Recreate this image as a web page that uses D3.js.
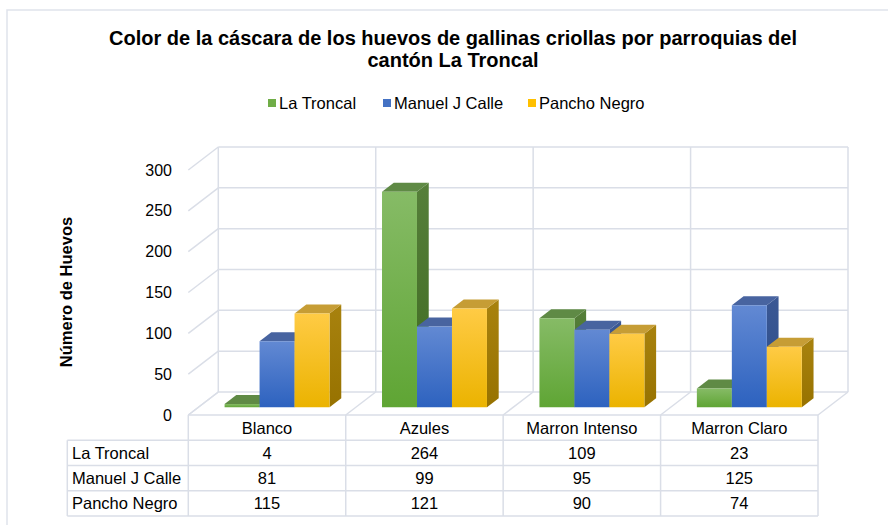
<!DOCTYPE html>
<html>
<head>
<meta charset="utf-8">
<script src="https://cdn.jsdelivr.net/npm/d3@7"></script>
<style>
body { margin: 0; background: #fff; }
text { font-family: "Liberation Sans", Arial, sans-serif; fill: #000; }
</style>
</head>
<body>
<div id="chart"></div>
<script>
// data
const categories = ['Blanco', 'Azules', 'Marron Intenso', 'Marron Claro'];
const series = ['La Troncal', 'Manuel J Calle', 'Pancho Negro'];
const laTroncal = [4, 264, 109, 23];
const manuelJCalle = [81, 99, 95, 125];
const panchoNegro = [115, 121, 90, 74];
const yTicks = [0, 50, 100, 150, 200, 250, 300];

const values = [laTroncal, manuelJCalle, panchoNegro];

// face colours per series: front top, front bottom, side top, side bottom, top
const shades = {
  'La Troncal':     ['#86bb66', '#5fa534', '#567f3a', '#3e6a20', '#5f8a45'],
  'Manuel J Calle': ['#6289d3', '#2d62bf', '#3b5894', '#2a4c8a', '#4864a0'],
  'Pancho Negro':   ['#ffcb45', '#ebb300', '#a8820e', '#977200', '#c69d35']
};
const legendColor = {'La Troncal': '#70ad47', 'Manuel J Calle': '#4472c4', 'Pancho Negro': '#ffc000'};

const width = 888, height = 525;
const DX = 30, DY = 23;          // depth of the floor
const zFront = 0.335, zBack = 0.726;  // depth of the bars
const grid = '#dadee7';

const svg = d3.select('#chart')
              .append('svg')
              .attr('width', width)
              .attr('height', height);

// chart area border
svg.append('rect')
   .attr('x', 7).attr('y', 10)
   .attr('width', width + 20).attr('height', height + 20)
   .style('fill', '#fff')
   .style('stroke', '#dfe3eb')
   .style('stroke-width', 1.5);

let x = d3.scaleBand().domain(categories).range([188.3, 818]);
let xs = d3.scaleBand().domain(series).range([0, x.bandwidth()]).paddingOuter(0.75);
let y = d3.scaleLinear().domain([0, 300]).range([415, 170]);

const proj = (px, v, z) => [px + DX * z, y(v) - DY * z];
const pts = arr => arr.map(p => p.join(',')).join(' ');

// gradients
let defs = svg.append('defs');
series.forEach((s, j) => {
  let g = defs.append('linearGradient').attr('id', 'front' + j).attr('x1', 0).attr('y1', 0).attr('x2', 0).attr('y2', 1);
  g.append('stop').attr('offset', '0%').attr('stop-color', shades[s][0]);
  g.append('stop').attr('offset', '100%').attr('stop-color', shades[s][1]);
  let g2 = defs.append('linearGradient').attr('id', 'side' + j).attr('x1', 0).attr('y1', 0).attr('x2', 0).attr('y2', 1);
  g2.append('stop').attr('offset', '0%').attr('stop-color', shades[s][2]);
  g2.append('stop').attr('offset', '100%').attr('stop-color', shades[s][3]);
});

let x0 = x.range()[0], x1 = x.range()[1];
let bounds = categories.map(c => x(c)).concat([x1]);

// back wall gridlines
svg.selectAll('.backgrid')
   .data(yTicks)
   .enter()
   .append('line')
   .attr('x1', d => proj(x0, d, 1)[0]).attr('y1', d => proj(x0, d, 1)[1])
   .attr('x2', d => proj(x1, d, 1)[0]).attr('y2', d => proj(x1, d, 1)[1])
   .style('stroke', grid).style('stroke-width', 1.5);

// side wall gridlines
svg.selectAll('.sidegrid')
   .data(yTicks)
   .enter()
   .append('line')
   .attr('x1', d => proj(x0, d, 0)[0]).attr('y1', d => proj(x0, d, 0)[1])
   .attr('x2', d => proj(x0, d, 1)[0]).attr('y2', d => proj(x0, d, 1)[1])
   .style('stroke', grid).style('stroke-width', 1.5);

// back wall verticals
svg.selectAll('.backvert')
   .data(bounds)
   .enter()
   .append('line')
   .attr('x1', d => proj(d, 0, 1)[0]).attr('y1', d => proj(d, 0, 1)[1])
   .attr('x2', d => proj(d, 300, 1)[0]).attr('y2', d => proj(d, 300, 1)[1])
   .style('stroke', grid).style('stroke-width', 1.5);

// floor lines
svg.selectAll('.floor')
   .data(bounds)
   .enter()
   .append('line')
   .attr('x1', d => proj(d, 0, 0)[0]).attr('y1', d => proj(d, 0, 0)[1])
   .attr('x2', d => proj(d, 0, 1)[0]).attr('y2', d => proj(d, 0, 1)[1])
   .style('stroke', grid).style('stroke-width', 1.5);

// bars
let barData = [];
categories.forEach((c, i) => {
  series.forEach((s, j) => {
    barData.push({cat: c, ser: s, j: j, value: values[j][i]});
  });
});

let bars = svg.selectAll('.bar')
              .data(barData)
              .enter()
              .append('g')
              .attr('class', 'bar');

bars.each(function(d) {
  let g = d3.select(this);
  let l = x(d.cat) + xs(d.ser), r = l + xs.bandwidth();
  let front = [proj(l, 0, zFront), proj(r, 0, zFront), proj(r, d.value, zFront), proj(l, d.value, zFront)];
  let side = [proj(r, 0, zFront), proj(r, 0, zBack), proj(r, d.value, zBack), proj(r, d.value, zFront)];
  let top = [proj(l, d.value, zFront), proj(r, d.value, zFront), proj(r, d.value, zBack), proj(l, d.value, zBack)];
  g.append('polygon').attr('points', pts(side)).style('fill', 'url(#side' + d.j + ')');
  g.append('polygon').attr('points', pts(top)).style('fill', shades[d.ser][4]);
  g.append('polygon').attr('points', pts(front)).style('fill', 'url(#front' + d.j + ')');
});

// y tick labels
svg.selectAll('.ytick')
   .data(yTicks)
   .enter()
   .append('text')
   .attr('x', 172)
   .attr('y', d => y(d))
   .attr('dy', '0.35em')
   .style('text-anchor', 'end')
   .style('font-size', '16px')
   .text(d => d);

// axis title
svg.append('text')
   .attr('transform', 'translate(72,292) rotate(-90)')
   .style('text-anchor', 'middle')
   .style('font-size', '16.5px')
   .style('font-weight', 'bold')
   .text('Número de Huevos');

// data table
let rows = d3.scaleBand().domain(['header'].concat(series)).range([415, 516]);
let tl = 67.3;

svg.append('line')
   .attr('x1', x0).attr('x2', x1).attr('y1', 415).attr('y2', 415)
   .style('stroke', grid).style('stroke-width', 1.5);

svg.selectAll('.hrow')
   .data(series)
   .enter()
   .append('line')
   .attr('x1', tl).attr('x2', x1)
   .attr('y1', d => rows(d)).attr('y2', d => rows(d))
   .style('stroke', grid).style('stroke-width', 1.5);

svg.append('line')
   .attr('x1', tl).attr('x2', x1).attr('y1', 516).attr('y2', 516)
   .style('stroke', grid).style('stroke-width', 1.5);

svg.append('line')
   .attr('x1', tl).attr('x2', tl).attr('y1', rows(series[0])).attr('y2', 516)
   .style('stroke', grid).style('stroke-width', 1.5);

svg.selectAll('.vcol')
   .data(bounds)
   .enter()
   .append('line')
   .attr('x1', d => d).attr('x2', d => d)
   .attr('y1', 415).attr('y2', 516)
   .style('stroke', grid).style('stroke-width', 1.5);

svg.selectAll('.cathead')
   .data(categories)
   .enter()
   .append('text')
   .attr('x', d => x(d) + x.bandwidth() / 2)
   .attr('y', rows('header') + rows.bandwidth() / 2 + 1)
   .attr('dy', '0.35em')
   .style('text-anchor', 'middle')
   .style('font-size', '16.5px')
   .text(d => d);

svg.selectAll('.rowlabel')
   .data(series)
   .enter()
   .append('text')
   .attr('x', 72)
   .attr('y', d => rows(d) + rows.bandwidth() / 2)
   .attr('dy', '0.35em')
   .style('font-size', '16.5px')
   .text(d => d);

svg.selectAll('.cell')
   .data(barData)
   .enter()
   .append('text')
   .attr('x', d => x(d.cat) + x.bandwidth() / 2)
   .attr('y', d => rows(d.ser) + rows.bandwidth() / 2)
   .attr('dy', '0.35em')
   .style('text-anchor', 'middle')
   .style('font-size', '16.5px')
   .text(d => d.value);

// title
let title = svg.append('text')
               .attr('x', 453)
               .attr('y', 45)
               .style('text-anchor', 'middle')
               .style('font-size', '20px')
               .style('font-weight', 'bold');
title.append('tspan').attr('x', 453).attr('y', 45).text('Color de la cáscara de los huevos de gallinas criollas por parroquias del');
title.append('tspan').attr('x', 453).attr('y', 67).text('cantón La Troncal');

// legend
let legendX = [268, 383, 528];
let legend = svg.selectAll('.legend')
                .data(series)
                .enter()
                .append('g')
                .attr('transform', (d, i) => 'translate(' + legendX[i] + ',99)');

legend.append('rect')
      .attr('width', 8).attr('height', 8)
      .style('fill', d => legendColor[d]);

legend.append('text')
      .attr('x', 11).attr('y', 4)
      .attr('dy', '0.35em')
      .style('font-size', '16.5px')
      .text(d => d);
</script>
</body>
</html>
